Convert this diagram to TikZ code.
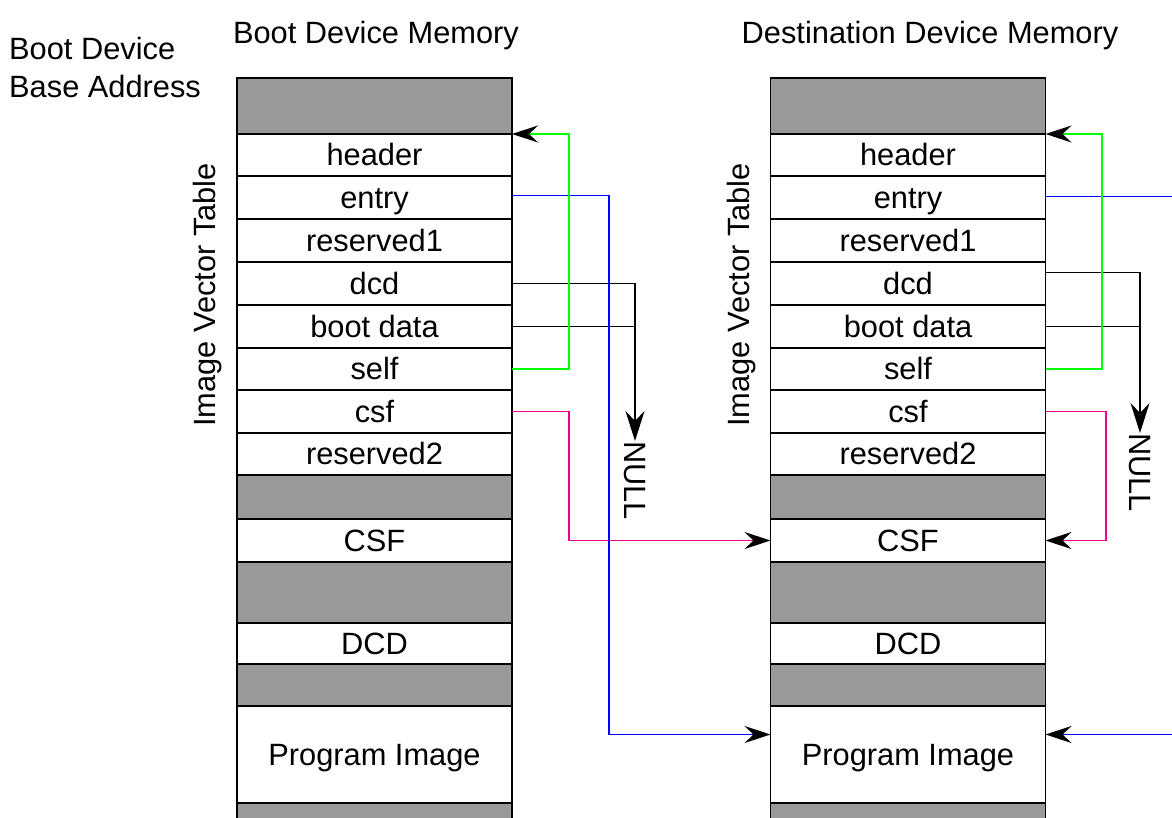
\documentclass[tikz,border=0pt]{standalone}
\usepackage{fontspec}
\setmainfont{Liberation Sans}
\usetikzlibrary{arrows.meta,calc}
\definecolor{memgray}{RGB}{153,153,153}
\begin{document}
\begin{tikzpicture}[x=1pt,y=-1pt,
  every node/.style={font=\fontsize{30.8}{37}\selectfont},
  cell/.style={draw=black, line width=1.6pt, minimum width=275pt, inner sep=0pt, outer sep=0pt, text height=21pt, text depth=0pt},
  conn/.style={line width=1.6pt},
  tip/.style={-{Stealth[length=26pt,width=17pt,inset=9pt,color=black]}},
  bigtip/.style={-{Stealth[length=30pt,width=19pt,inset=10pt,color=black]}},
]
\useasboundingbox (0,0) rectangle (1172,817);

% memory rows
\foreach \n/\c/\h/\t/\f in {ga/106/56//memgray, hdr/155/42/header/white, entry/197.5/43/entry/white,
  resa/240.5/43/reserved1/white, dcd/283.5/43/dcd/white, boot/326.5/43/boot data/white,
  self/369/42/self/white, csf/411.5/43/csf/white, resb/454/42/reserved2/white,
  gb/497/44//memgray, CSF/540.5/43/CSF/white, gc/592.5/61//memgray, DCD/643.5/41/DCD/white,
  gd/685/42//memgray, prog/754.5/97/Program Image/white, ge/816.5/27//memgray}{
  \node[cell, fill=\f, minimum height=\h pt] (\n L) at (374.5,\c) {\t};
  \node[cell, fill=\f, minimum height=\h pt] (\n R) at (908,\c) {\t};
}

% titles and labels
\node[anchor=base] (titleL) at (376,43) {Boot Device Memory};
\node[anchor=base] (titleR) at (930,43) {Destination Device Memory};
\node[anchor=base west, inner sep=0pt] (bda) at (9,59.5) {Boot Device};
\node[anchor=base west, inner sep=0pt] (bdb) at (9,97) {Base Address};
\node[rotate=90, anchor=base, inner sep=0pt] (ivtL) at (215,295) {Image Vector Table};
\node[rotate=90, anchor=base, inner sep=0pt] (ivtR) at (749,295) {Image Vector Table};

% helper coordinates
\coordinate (xgL) at (569,0);
\coordinate (xbL) at (609,0);
\coordinate (nullL) at (635,441);
\coordinate (xgR) at (1102,0);
\coordinate (xmR) at (1106,0);
\coordinate (nullR) at (1140,433);
\coordinate (edge) at (1172,0);
\coordinate (entryOutL) at ([yshift=2pt]entryL.east);
\coordinate (entryOutR) at ([yshift=1pt]entryR.east);
\coordinate (progInL) at ([yshift=20pt]progR.west);
\coordinate (progInR) at ([yshift=20pt]progR.east);
\coordinate (dcdOutR) at ([yshift=11pt]dcdR.east);

\node[rotate=-90, anchor=west, inner sep=0pt] (nulltL) at (nullL) {NULL};
\node[rotate=-90, anchor=west, inner sep=0pt] (nulltR) at (nullR) {NULL};

% left connectors
\draw[conn, black, bigtip] (dcdL.east) -| (nullL);
\draw[conn, black] (bootL.east) -- (bootL.east -| nullL);
\draw[conn, magenta, tip] (csfL.east) -| (xgL |- CSFR.west) -- (CSFR.west);
\draw[conn, blue, tip] (entryOutL) -| (xbL |- progInL) -- (progInL);
\draw[conn, green, tip] (selfL.east) -| (xgL |- hdrL.north east) -- (hdrL.north east);

% right connectors
\draw[conn, black, bigtip] (dcdOutR) -| (nullR);
\draw[conn, black] (bootR.east) -- (bootR.east -| nullR);
\draw[conn, magenta, tip] (csfR.east) -| (xmR |- CSFR.east) -- (CSFR.east);
\draw[conn, blue] (entryOutR) -- (edge |- entryOutR);
\draw[conn, blue, tip] (edge |- progInR) -- (progInR);
\draw[conn, green, tip] (selfR.east) -| (xgR |- hdrR.north east) -- (hdrR.north east);
\end{tikzpicture}
\end{document}
